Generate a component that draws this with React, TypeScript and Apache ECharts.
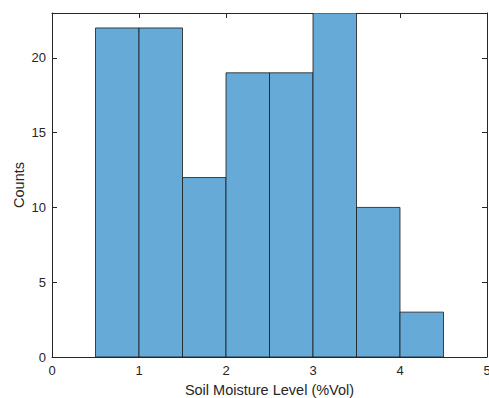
import React, { useEffect, useRef } from "react";
import * as echarts from "echarts";

const binEdges = [0.5, 1, 1.5, 2, 2.5, 3, 3.5, 4, 4.5];
const counts = [22, 22, 12, 19, 19, 23, 10, 3];

const axisColor = "#262626";
const font = "'Liberation Sans', Arial, Helvetica, sans-serif";

export default function App() {
  const ref = useRef<HTMLDivElement>(null);
  useEffect(() => {
    const chart = echarts.init(ref.current!, undefined, { renderer: "svg" });
    const data = counts.map((c, i) => [binEdges[i], binEdges[i + 1], c]);
    const xCommon = {
      type: "value" as const,
      min: 0,
      max: 5,
      interval: 1,
      splitLine: { show: false },
      axisLine: { show: true, onZero: false, lineStyle: { color: axisColor, width: 1 } },
      axisTick: { show: true, inside: true, length: 5, lineStyle: { color: axisColor } },
    };
    const yCommon = {
      type: "value" as const,
      min: 0,
      max: 23,
      interval: 5,
      splitLine: { show: false },
      axisLine: { show: true, onZero: false, lineStyle: { color: axisColor, width: 1 } },
      axisTick: { show: true, inside: true, length: 5, lineStyle: { color: axisColor } },
    };
    chart.setOption({
      animation: false,
      grid: { left: 52, top: 13, right: 2, bottom: 41, containLabel: false, outerBoundsMode: "none" },
      xAxis: [
        {
          ...xCommon,
          position: "bottom",
          name: "Soil Moisture Level (%Vol)",
          nameLocation: "middle",
          nameGap: 25,
          nameTextStyle: { color: axisColor, fontSize: 14.5, fontFamily: font },
          axisLabel: { color: axisColor, fontSize: 13, fontFamily: font, margin: 7 },
        },
        {
          ...xCommon,
          position: "top",
          axisLabel: { show: false },
        },
      ],
      yAxis: [
        {
          ...yCommon,
          position: "left",
          name: "Counts",
          nameLocation: "middle",
          nameMoveOverlap: false,
          nameGap: 26,
          nameTextStyle: { color: axisColor, fontSize: 14.5, fontFamily: font },
          axisLabel: { color: axisColor, fontSize: 13, fontFamily: font, margin: 6, showMaxLabel: false },
        },
        {
          ...yCommon,
          position: "right",
          axisLabel: { show: false },
        },
      ],
      series: [
        {
          type: "custom",
          xAxisIndex: 0,
          yAxisIndex: 0,
          clip: true,
          data,
          renderItem: (params: any, api: any) => {
            const p0 = api.coord([api.value(0), api.value(2)]);
            const p1 = api.coord([api.value(1), 0]);
            return {
              type: "rect",
              shape: { x: p0[0], y: p0[1], width: p1[0] - p0[0], height: p1[1] - p0[1] },
              style: { fill: "#66AAD7", stroke: "#1a1a1a", lineWidth: 0.8 },
            };
          },
        },
      ],
    });
    return () => chart.dispose();
  }, []);
  return <div ref={ref} style={{ position: "absolute", left: 0, top: 0, width: 489, height: 398 }} />;
}
